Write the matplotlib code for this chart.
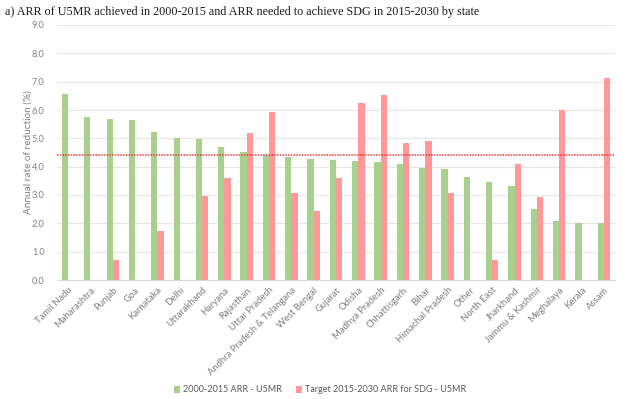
import matplotlib
matplotlib.use('Agg')
from matplotlib import pyplot as pl
import numpy as np

states = ['Tamil Nadu', 'Maharashtra', 'Punjab', 'Goa', 'Karnataka', 'Delhi',
          'Uttarakhand', 'Haryana', 'Rajasthan', 'Uttar Pradesh',
          'Andhra Pradesh & Telangana', 'West Bengal', 'Gujarat', 'Odisha',
          'Madhya Pradesh', 'Chhattisgarh', 'Bihar', 'Himachal Pradesh',
          'Other', 'North East', 'Jharkhand', 'Jammu & Kashmir', 'Meghalaya',
          'Kerala', 'Assam']
arr_2000_2015 = [6.55, 5.75, 5.67, 5.64, 5.21, 5.01, 4.98, 4.68, 4.51, 4.42,
                 4.33, 4.26, 4.25, 4.19, 4.15, 4.09, 3.95, 3.92, 3.65, 3.45,
                 3.32, 2.51, 2.08, 2.01, 2.00]
arr_target = [None, None, 0.71, None, 1.73, None, 2.98, 3.59, 5.20, 5.93,
              3.06, 2.42, 3.59, 6.24, 6.53, 4.84, 4.90, 3.08, None, 0.71,
              4.09, 2.94, 6.00, None, 7.12]
national_arr = 4.4
yticks = [0, 1, 2, 3, 4, 5, 6, 7, 8, 9]

green = '#a9d18e'
red = '#ff9999'
gray = '#7f7f7f'

fig = pl.figure(figsize=(6.4, 3.99), dpi=100)
ax = fig.add_axes([57/640, 1-280/399, 558/640, 255/399])

x = np.arange(len(states))
w = 0.28
target = [np.nan if v is None else v for v in arr_target]
ax.bar(x - w/2, arr_2000_2015, width=w, color=green, zorder=2,
       label='2000-2015 ARR - U5MR')
ax.bar(x + w/2, target, width=w, color=red, zorder=2,
       label='Target 2015-2030 ARR for SDG - U5MR')
ax.axhline(national_arr, color='#e8383d', linestyle=(0, (1, 0.8)),
           linewidth=1.1, zorder=3)

ax.set_xlim(-0.5, len(states) - 0.5)
ax.set_ylim(0, 9)
ax.set_yticks(yticks)
ax.set_yticklabels(['%.1f' % t for t in yticks], fontsize=6.6, color=gray,
                   family='Lato')
ax.set_xticks(x)
ax.set_xticklabels(states, rotation=45, ha='right', rotation_mode='anchor',
                   fontsize=6.8, color=gray, family='Lato')
ax.tick_params(axis='both', length=0)
ax.tick_params(axis='y', pad=9)
ax.tick_params(axis='x', pad=4)
ax.grid(axis='y', color='#e6e6e6', linewidth=0.8, zorder=0)
for s in ['top', 'right', 'left']:
    ax.spines[s].set_visible(False)
ax.spines['bottom'].set_color('#d9d9d9')

ax.set_ylabel('Annual rate of reduction (%)', fontsize=7.2, color=gray,
              family='Lato')
ax.yaxis.set_label_coords(-24/558, 0.5)

fig.text(5/640, 1-11.5/399,
         'a) ARR of U5MR achieved in 2000-2015 and ARR needed to achieve '
         'SDG in 2015-2030 by state',
         fontsize=8.7, family='Liberation Serif', va='center', ha='left',
         color='#1a1a1a')

fig.legend(loc='center', bbox_to_anchor=(320/640, 1-390/399), ncol=2,
           frameon=False, handlelength=0.7, handleheight=0.7,
           handletextpad=0.3, columnspacing=1.6,
           prop={'family': 'Lato', 'size': 6.5})
for t in fig.legends[0].get_texts():
    t.set_color('#595959')

fig.savefig('out.png', dpi=100)
